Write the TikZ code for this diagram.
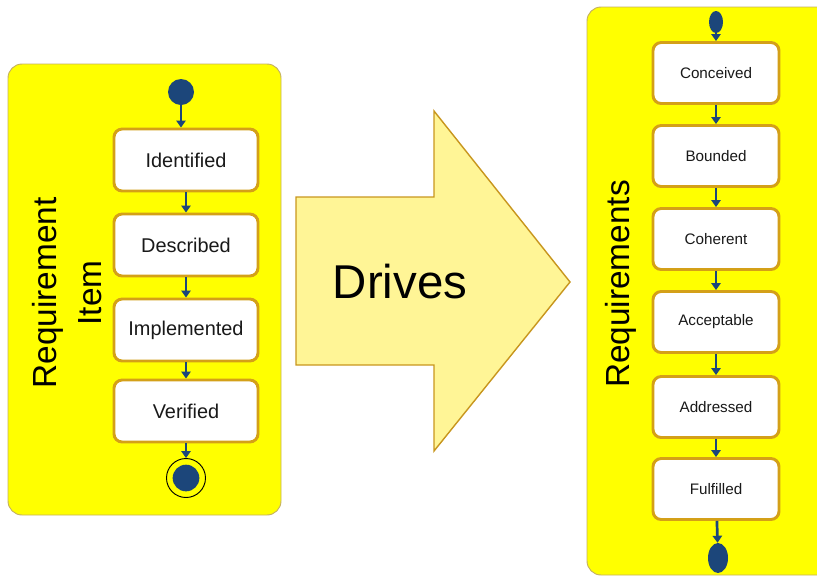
\documentclass[tikz,border=0pt]{standalone}
\usepackage{fontspec}
\setmainfont{Liberation Sans}
\usetikzlibrary{arrows.meta,shapes.geometric}
\definecolor{panelyellow}{RGB}{255,255,0}
\definecolor{paneledge}{RGB}{196,176,96}
\definecolor{boxedge}{RGB}{212,160,24}
\definecolor{dotblue}{RGB}{28,70,122}
\definecolor{arrowfill}{RGB}{255,245,150}
\definecolor{arrowedge}{RGB}{200,150,30}
\begin{document}
\begin{tikzpicture}[x=0.03cm, y=-0.03cm,
  panel/.style={fill=panelyellow, draw=paneledge, line width=0.8pt, rounded corners=12pt},
  bigstate/.style={draw=boxedge, line width=2.5pt, fill=white, rounded corners=7pt,
    minimum width=4.32cm, minimum height=1.86cm, text=black!90, font=\fontsize{17}{20}\selectfont},
  smallstate/.style={bigstate, minimum width=3.78cm, minimum height=1.83cm, font=\fontsize{13}{16}\selectfont},
  startdot/.style={circle, fill=dotblue, inner sep=0pt, minimum size=0.78cm},
  endring/.style={circle, draw=black, line width=0.8pt, fill=panelyellow, inner sep=0pt, minimum size=1.17cm},
  oval/.style={ellipse, fill=dotblue, inner sep=0pt},
  flow/.style={-{Triangle[width=8pt,length=6pt]}, dotblue, line width=2.3pt},
  biglabel/.style={font=\fontsize{28.5}{38}\selectfont, align=center, rotate=90}]
\useasboundingbox (0,0) rectangle (817,576);
\clip (0,0) rectangle (817,576);
% left panel: requirement item
\draw[panel] (8,64) rectangle (281,515);
\node[biglabel] (itemlabel) at (67,293) {Requirement\\Item};
\node[startdot] (li0) at (181,92) {};
\foreach \n/\t/\y in {li1/Identified/160, li2/Described/245, li3/Implemented/330, li4/Verified/411}
  \node[bigstate] (\n) at (186,\y) {\t};
\node[endring] (li5) at (186,478) {};
\node[startdot, minimum size=0.8cm] (li5dot) at (li5) {};
\foreach \a/\b in {li0/li1, li1/li2, li2/li3, li3/li4, li4/li5}
  \draw[flow] (\a.south) -- (\a.south |- \b.north);
% the big arrow
\draw[fill=arrowfill, draw=arrowedge, line width=1.2pt, line join=miter]
  (296,197) -- (434,197) -- (434,111) -- (570,282) -- (434,451) -- (434,365) -- (296,365) -- cycle;
\node[font=\fontsize{40.5}{48}\selectfont] (drives) at (400,282) {Drives};
% right panel: requirements
\draw[panel] (587,7) rectangle (850,575);
\node[biglabel] (reqlabel) at (621,284) {Requirements};
\node[oval, minimum width=0.42cm, minimum height=0.66cm] (r0) at (716,22) {};
\foreach \n/\t/\y in {r1/Conceived/73, r2/Bounded/156, r3/Coherent/239, r4/Acceptable/322, r5/Addressed/407, r6/Fulfilled/489}
  \node[smallstate] (\n) at (716,\y) {\t};
\node[oval, minimum width=0.6cm, minimum height=0.9cm] (r7) at (718,558) {};
\foreach \a/\b in {r0/r1, r1/r2, r2/r3, r3/r4, r4/r5, r5/r6}
  \draw[flow] (\a.south) -- (\a.south |- \b.north);
\draw[flow] (r6) -- (r7);
\end{tikzpicture}
\end{document}
